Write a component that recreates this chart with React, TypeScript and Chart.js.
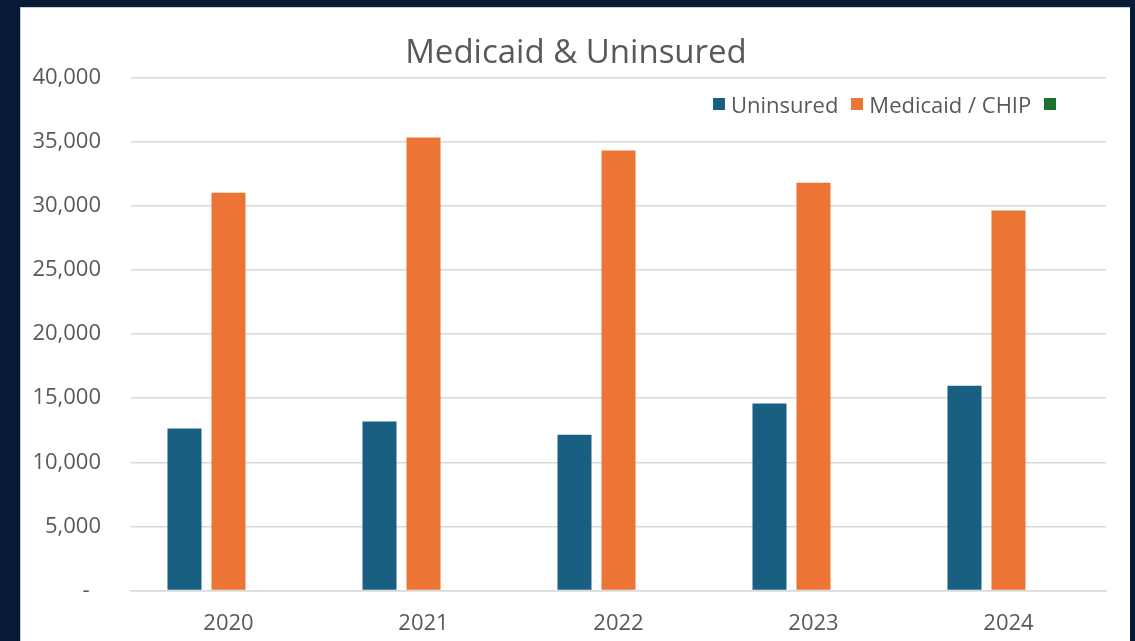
import React, { useEffect, useRef } from "react";
import { Chart, registerables } from "chart.js";

Chart.register(...registerables);

const categories = ["2020", "2021", "2022", "2023", "2024"];
const uninsured = [12630, 13180, 12160, 14580, 15980];
const medicaid = [31030, 35320, 34310, 31810, 29630];
const thirdSeries = [null, null, null, null, null];
const seriesLabels = ["Uninsured", "Medicaid / CHIP", ""];
const seriesColors = ["#185f82", "#ec7434", "#1e7030"];
const yTicks = [0, 5000, 10000, 15000, 20000, 25000, 30000, 35000, 40000];

const FONT = "'Open Sans', 'Noto Sans', sans-serif";
const TEXT = "#595959";

export default function App() {
  const ref = useRef<HTMLCanvasElement | null>(null);

  useEffect(() => {
    document.body.style.margin = "0";
    const canvas = ref.current;
    if (!canvas) return;
    const chart = new Chart(canvas, {
      type: "bar",
      data: {
        labels: categories,
        datasets: [
          { label: seriesLabels[0], data: uninsured, backgroundColor: seriesColors[0] },
          { label: seriesLabels[1], data: medicaid, backgroundColor: seriesColors[1] },
          { label: seriesLabels[2], data: thirdSeries as any, backgroundColor: seriesColors[2] },
        ],
      },
      options: {
        animation: false,
        responsive: false,
        maintainAspectRatio: false,
        layout: { padding: { left: 0, right: 0, top: 0, bottom: 8 } },
        datasets: { bar: { categoryPercentage: 0.677, barPercentage: 0.773 } },
        plugins: {
          legend: { display: false },
          tooltip: { enabled: false },
          title: {
            display: true,
            text: "Medicaid & Uninsured",
            color: TEXT,
            font: { family: FONT, size: 33, weight: "normal" },
            padding: { top: 26, bottom: 4 },
          },
        },
        scales: {
          x: {
            grid: { display: false, drawTicks: false },
            border: { display: true, color: "#d9d9d9", width: 1.5 },
            ticks: {
              color: TEXT,
              font: { family: FONT, size: 22 },
              padding: 20,
            },
          },
          y: {
            min: 0,
            max: 40000,
            afterFit: (s: any) => {
              s.width = 110;
            },
            afterBuildTicks: (s: any) => {
              s.ticks = yTicks.map((v) => ({ value: v }));
            },
            grid: { color: "#d9d9d9", lineWidth: 1.5, drawTicks: false },
            border: { display: false },
            ticks: {
              color: TEXT,
              font: { family: FONT, size: 22 },
              padding: 30,
              callback: (v: any) => (Number(v) === 0 ? "-  " : Number(v).toLocaleString("en-US")),
            },
          },
          yRight: {
            position: "right",
            display: true,
            min: 0,
            max: 40000,
            afterFit: (s: any) => {
              s.width = 25;
            },
            grid: { display: false, drawTicks: false },
            border: { display: false },
            ticks: { display: false },
          },
        },
      },
    });
    return () => chart.destroy();
  }, []);

  const legendItem = (i: number) => (
    <div key={i} style={{ display: "flex", alignItems: "center", marginRight: 13 }}>
      <span
        style={{
          display: "inline-block",
          width: 12,
          height: 12,
          background: seriesColors[i],
          marginRight: seriesLabels[i] ? 6 : 0,
        }}
      />
      {seriesLabels[i] ? <span>{seriesLabels[i]}</span> : null}
    </div>
  );

  return (
    <div
      style={{
        position: "fixed",
        left: 0,
        top: 0,
        width: 1135,
        height: 641,
        background: "#071b36",
        overflow: "hidden",
      }}
    >
      <div
        style={{
          position: "absolute",
          left: 20,
          top: 7,
          width: 1110,
          height: 665,
          background: "#ffffff",
          borderLeft: "1px solid #c8ccd2",
          borderTop: "1px solid #c8ccd2",
          boxSizing: "border-box",
        }}
      >
        <canvas ref={ref} width={1110} height={657} style={{ position: "absolute", left: 0, top: 0 }} />
        <div
          style={{
            position: "absolute",
            left: 692,
            top: 81,
            display: "flex",
            alignItems: "center",
            fontFamily: FONT,
            fontSize: 22,
            color: TEXT,
            whiteSpace: "nowrap",
          }}
        >
          {[0, 1, 2].map(legendItem)}
        </div>
      </div>
    </div>
  );
}
